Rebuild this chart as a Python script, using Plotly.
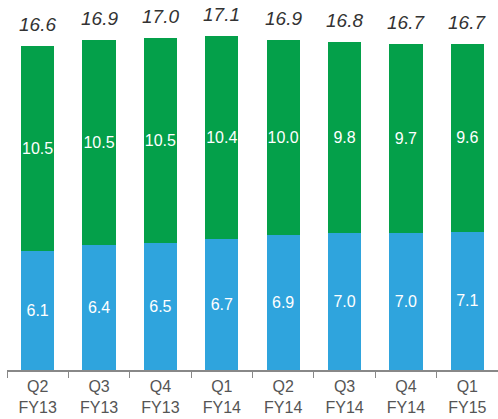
import plotly.graph_objects as go

categories = ["Q2<br>FY13", "Q3<br>FY13", "Q4<br>FY13", "Q1<br>FY14", "Q2<br>FY14", "Q3<br>FY14", "Q4<br>FY14", "Q1<br>FY15"]
blue_vals = [6.1, 6.4, 6.5, 6.7, 6.9, 7.0, 7.0, 7.1]
green_vals = [10.5, 10.5, 10.5, 10.4, 10.0, 9.8, 9.7, 9.6]
totals = [16.6, 16.9, 17.0, 17.1, 16.9, 16.8, 16.7, 16.7]

FONT = "Arial, Liberation Sans, sans-serif"

fig = go.Figure()
fig.add_trace(go.Bar(
    x=categories, y=blue_vals, marker=dict(color="#2FA4DD", line=dict(width=0)),
    text=[f"{v:.1f}" for v in blue_vals], textposition="inside", insidetextanchor="middle",
    textfont=dict(color="white", size=16, family=FONT), width=0.54,
    textangle=0, constraintext="none",
))
fig.add_trace(go.Bar(
    x=categories, y=green_vals, marker=dict(color="#04A04A", line=dict(width=0)),
    text=[f"{v:.1f}" for v in green_vals], textposition="inside", insidetextanchor="middle",
    textfont=dict(color="white", size=16, family=FONT), width=0.54,
    textangle=0, constraintext="none",
))
for c, t in zip(categories, totals):
    fig.add_annotation(
        x=c, y=t, text=f"{t:.1f}", showarrow=False, yanchor="bottom", yshift=9,
        font=dict(color="#333333", size=19, family=FONT, style="italic"),
    )

fig.update_layout(
    barmode="stack", showlegend=False, width=498, height=419,
    margin=dict(l=7, r=0, t=8, b=49),
    plot_bgcolor="white", paper_bgcolor="white",
)
fig.update_xaxes(
    showline=True, linecolor="#888888", linewidth=1.5,
    ticks="outside", tickson="boundaries", ticklen=6, tickcolor="#888888",
    tickfont=dict(size=16, color="#555555", family=FONT), ticklabelstandoff=1,
    showgrid=False, automargin=False,
)
fig.update_yaxes(visible=False, range=[0, 18.56], showgrid=False)

fig.write_html("out.html", config={"displayModeBar": False},
               post_script="document.body.style.margin='0';document.body.style.overflow='hidden';")
